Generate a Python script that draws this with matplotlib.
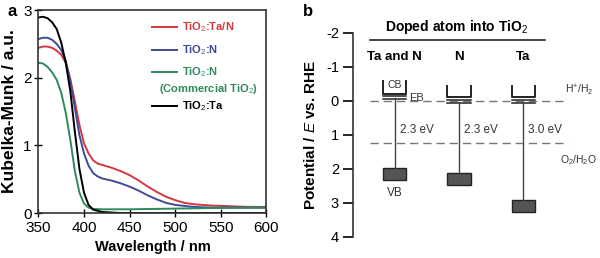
import matplotlib
matplotlib.use("Agg")
import matplotlib.pyplot as plt

plt.rcParams['font.family'] = ['Liberation Sans', 'DejaVu Sans']
plt.rcParams['mathtext.fontset'] = 'custom'
plt.rcParams['mathtext.rm'] = 'Liberation Sans'
plt.rcParams['mathtext.it'] = 'Liberation Sans:italic'
plt.rcParams['mathtext.bf'] = 'Liberation Sans:bold'
plt.rcParams['axes.unicode_minus'] = False

# ---- panel a: Kubelka-Munk spectra ----
wl_tan = [350, 355, 360, 365, 370, 375, 380, 385, 390, 395, 400, 405, 410, 415, 420, 430,
          440, 450, 460, 470, 480, 490, 500, 510, 520, 540, 560, 580, 600]
km_tan = [2.44, 2.46, 2.46, 2.44, 2.40, 2.34, 2.22, 1.98, 1.65, 1.30, 1.03, 0.88, 0.78, 0.73,
          0.71, 0.67, 0.62, 0.56, 0.48, 0.39, 0.31, 0.24, 0.19, 0.15, 0.13, 0.11, 0.10, 0.09, 0.09]

wl_n = [350, 355, 360, 365, 370, 375, 380, 385, 390, 395, 400, 405, 410, 415, 420, 430,
        440, 450, 460, 470, 480, 490, 500, 520, 540, 600]
km_n = [2.57, 2.59, 2.59, 2.56, 2.50, 2.41, 2.25, 1.95, 1.55, 1.15, 0.88, 0.70, 0.59, 0.54,
        0.51, 0.48, 0.44, 0.39, 0.33, 0.26, 0.20, 0.15, 0.12, 0.09, 0.08, 0.08]

wl_comm = [350, 355, 360, 365, 370, 375, 380, 385, 390, 395, 400, 405, 410, 420, 450, 500, 550, 600]
km_comm = [2.22, 2.21, 2.16, 2.08, 1.97, 1.78, 1.48, 1.08, 0.62, 0.30, 0.14, 0.08, 0.06,
           0.055, 0.055, 0.065, 0.075, 0.08]

wl_ta = [350, 355, 360, 365, 370, 375, 380, 385, 390, 395, 400, 405, 410, 420, 440, 600]
km_ta = [2.89, 2.90, 2.88, 2.82, 2.72, 2.52, 2.22, 1.80, 1.20, 0.65, 0.30, 0.12, 0.05,
         0.015, 0.0, 0.0]

# ---- panel b: band positions (V vs RHE) ----
dopants = ["Ta and N", "N", "Ta"]
cb_top = [-0.58, -0.45, -0.45]
cb_bot = [-0.20, -0.12, -0.12]
eb = [-0.10, 0.02, 0.02]
vb_top = [1.97, 2.12, 2.91]
vb_bot = [2.32, 2.47, 3.26]
gaps = ["2.3 eV", "2.3 eV", "3.0 eV"]
h2_level = 0.0
o2_level = 1.23

red = '#d0393f'
blue = '#3f4b98'
green = '#2f8a5c'

fig = plt.figure(figsize=(6, 2.58), dpi=100)

ax = fig.add_axes([0.064, 0.1744, 0.380, 0.7868])
ax.plot(wl_tan, km_tan, color=red, lw=1.4)
ax.plot(wl_n, km_n, color=blue, lw=1.4)
ax.plot(wl_comm, km_comm, color=green, lw=1.4)
ax.plot(wl_ta, km_ta, color='black', lw=1.4)
ax.set_xlim(350, 600)
ax.set_ylim(0, 3)
ax.set_xticks([350, 400, 450, 500, 550, 600])
ax.set_yticks([0, 1, 2, 3])
ax.tick_params(direction='inout', labelsize=11, length=6, width=1, pad=2)
ax.tick_params(axis='x', pad=3)
for s in ax.spines.values():
    s.set_linewidth(1.2)
    s.set_color('#333333')
ax.set_xlabel("Wavelength / nm", fontsize=10.5, fontweight='bold', labelpad=3)
ax.set_ylabel("Kubelka-Munk / a.u.", fontsize=12.5, fontweight='bold', labelpad=4)

# legend drawn by hand
rows = [(0.917, "TiO$_2$:Ta/N", red), (0.804, "TiO$_2$:N", blue),
        (0.696, "TiO$_2$:N", green), (0.525, "TiO$_2$:Ta", 'black')]
for y, lab, c in rows:
    ax.plot([0.5, 0.61], [y, y], color=c, lw=1.4, transform=ax.transAxes)
    ax.text(0.628, y, lab, color=c, fontsize=8, fontweight='bold',
            va='center', ha='left', transform=ax.transAxes)
ax.text(0.745, 0.613, "(Commercial TiO$_2$)", color=green, fontsize=8,
        fontweight='bold', va='center', ha='center', transform=ax.transAxes)
fig.text(0.013, 0.955, "a", fontsize=12, fontweight='bold', va='center')

# ---- panel b ----
bx = fig.add_axes([0.588, 0.0814, 0.412, 0.7907])
bx.set_xlim(-0.656, 3.2)
bx.set_ylim(4, -2)
bx.set_yticks([-2, -1, 0, 1, 2, 3, 4])
bx.set_xticks([])
for k in ['top', 'right', 'bottom']:
    bx.spines[k].set_visible(False)
bx.spines['left'].set_linewidth(1.2)
bx.spines['left'].set_color('#333333')
bx.tick_params(axis='y', direction='out', labelsize=10.5, length=7, width=1.2, pad=3)
bx.set_ylabel("Potential / $E$ vs. RHE", fontsize=11, fontweight='bold', labelpad=6)

bx.plot([-0.39, 2.7], [h2_level, h2_level], ls=(0, (6, 3.5)), color='#777777', lw=1)
bx.plot([-0.39, 2.7], [o2_level, o2_level], ls=(0, (6, 3.5)), color='#777777', lw=1)

hw = 0.18
for i in range(len(dopants)):
    # CB bracket
    bx.plot([i - hw, i - hw, i + hw, i + hw], [cb_top[i], cb_bot[i], cb_bot[i], cb_top[i]],
            color='#222222', lw=1.4)
    # EB double line
    bx.plot([i - hw, i + hw], [eb[i] - 0.035, eb[i] - 0.035], color='#222222', lw=1.1)
    bx.plot([i - hw, i + hw], [eb[i] + 0.035, eb[i] + 0.035], color='#222222', lw=1.1)
    # gap line
    bx.plot([i, i], [eb[i], vb_top[i]], color='#444444', lw=1)
    # VB box
    bx.fill([i - hw, i + hw, i + hw, i - hw], [vb_top[i], vb_top[i], vb_bot[i], vb_bot[i]],
            facecolor='#555555', edgecolor='#222222', lw=1)
    bx.text(i + 0.08, 0.85, gaps[i], fontsize=8.5, color='#333333', ha='left', va='center')
    bx.text(i, -1.29, dopants[i], fontsize=9.5, fontweight='bold', ha='center', va='center')

bx.text(0, -0.47, "CB", fontsize=7.5, color='#333333', ha='center', va='center')
bx.text(0.23, -0.09, "EB", fontsize=8, color='#333333', ha='left', va='center')
bx.text(0, 2.7, "VB", fontsize=8.5, color='#333333', ha='center', va='center')
bx.text(2.66, -0.3, "H$^{+}$/H$_2$", fontsize=7.5, color='#333333', ha='left', va='center')
bx.text(2.58, 1.75, "O$_2$/H$_2$O", fontsize=7.5, color='#333333', ha='left', va='center')

bx.plot([-0.39, 2.34], [-1.79, -1.79], color='#222222', lw=1.2, clip_on=False)
bx.text(0.97, -2.18, "Doped atom into TiO$_2$", fontsize=10, fontweight='bold',
        ha='center', va='center')
fig.text(0.505, 0.955, "b", fontsize=12, fontweight='bold', va='center')

fig.savefig("out.png", dpi=100)
